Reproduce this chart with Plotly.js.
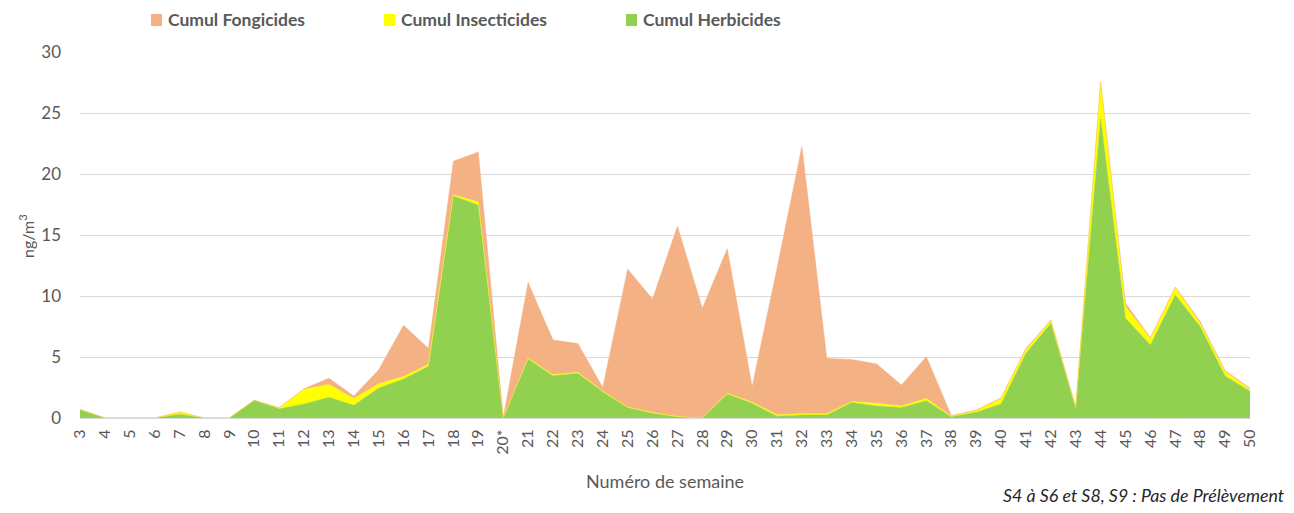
<!DOCTYPE html>
<html>
<head>
<meta charset="utf-8">
<script src="https://cdn.plot.ly/plotly-3.0.1.min.js"></script>
<style>
html,body{margin:0;padding:0;background:#fff;}
#chart{width:1294px;height:513px;}
</style>
</head>
<body>
<div id="chart"></div>
<script>
const weeks = ['3','4','5','6','7','8','9','10','11','12','13','14','15','16','17','18','19','20*',
  '21','22','23','24','25','26','27','28','29','30','31','32','33','34','35','36','37','38','39','40',
  '41','42','43','44','45','46','47','48','49','50'];

const herbicides = [0.7,0,0,0,0.3,0,0,1.45,0.75,1.15,1.7,1.05,2.45,3.2,4.25,18.2,17.45,0,
  4.83,3.47,3.66,2.16,0.87,0.38,0.1,0,1.97,1.2,0.15,0.25,0.25,1.28,0.98,0.87,1.42,0.1,0.47,1.15,
  5.3,7.76,0.79,24.56,8.17,5.98,10.08,7.49,3.44,2.2];

const insecticides = [0,0,0,0,0.2,0,0,0,0.1,1.2,1.05,0.55,0.35,0.2,0.15,0.1,0.25,0,
  0.07,0.08,0.09,0.04,0.03,0.07,0.02,0,0.05,0.1,0.12,0.1,0.1,0.07,0.22,0.11,0.18,0.05,0.13,0.45,
  0.27,0.22,0.06,3.0,0.96,0.55,0.6,0.27,0.36,0.15];

const fongicides = [0,0,0,0,0,0,0,0,0,0.05,0.5,0.2,1.15,4.2,1.3,2.75,4.1,0,
  6.2,2.85,2.35,0.3,11.3,9.3,15.6,9.0,11.85,1.27,12.0,21.9,4.52,3.45,3.23,1.72,3.43,0.05,0.05,0.05,
  0.13,0.05,0.02,0.03,0.27,0.07,0.05,0.14,0.1,0.08];

const seriesNames = ['Cumul Fongicides','Cumul Insecticides','Cumul Herbicides'];
const colors = {herb:'#92d050', ins:'#ffff00', fong:'#f4b183'};

const FONT = 'Lato, "Open Sans", sans-serif';
const GREY = '#595959';

function areaTrace(y, name, color){
  return {x: weeks, y: y, name: name, type:'scatter', mode:'lines', stackgroup:'one',
    line:{width:0.5, color:color, shape:'linear'}, fillcolor: color, showlegend:false, hoverinfo:'skip'};
}

const traces = [
  areaTrace(herbicides, seriesNames[2], colors.herb),
  areaTrace(insecticides, seriesNames[1], colors.ins),
  areaTrace(fongicides, seriesNames[0], colors.fong)
];

// plot area in pixels: x 80..1250, y 52..418
const L=80, R=1250, T=52, B=418;
const px = x => (x-L)/(R-L);
const py = y => (B-y)/(B-T);

const legendItems = [
  {label: seriesNames[0], color: colors.fong, sx: 151, tx: 166},
  {label: seriesNames[1], color: colors.ins, sx: 384, tx: 399},
  {label: seriesNames[2], color: colors.herb, sx: 626, tx: 641}
];

const shapes = legendItems.map(it => ({type:'rect', xref:'paper', yref:'paper',
  x0: px(it.sx), x1: px(it.sx+11), y0: py(26), y1: py(14), fillcolor: it.color, line:{width:0}}));

const annotations = legendItems.map(it => ({xref:'paper', yref:'paper', x: px(it.tx), y: py(20),
  xanchor:'left', yanchor:'middle', showarrow:false, text:'<b>'+it.label+'</b>',
  font:{family:FONT, size:17.5, color:GREY}}));

annotations.push({xref:'paper', yref:'paper', x: px(26), y: py(236), textangle:-90,
  xanchor:'center', yanchor:'middle', showarrow:false, text:'ng/m<sup>3</sup>',
  font:{family:FONT, size:16, color:GREY}});
annotations.push({xref:'paper', yref:'paper', x: px(665), y: py(481),
  xanchor:'center', yanchor:'middle', showarrow:false, text:'Numéro de semaine',
  font:{family:FONT, size:18, color:GREY}});
annotations.push({xref:'paper', yref:'paper', x: px(1286), y: py(495),
  xanchor:'right', yanchor:'middle', showarrow:false, text:'<i>S4 à S6 et S8, S9 : Pas de Prélèvement</i>',
  font:{family:FONT, size:17.8, color:'#262626'}});

const layout = {
  width:1294, height:513,
  margin:{l:L, r:1294-R, t:T, b:513-B, pad:0},
  paper_bgcolor:'#fff', plot_bgcolor:'#fff',
  showlegend:false,
  xaxis:{type:'category', categoryorder:'array', categoryarray:weeks, range:[0, weeks.length-1],
    tickangle:-90, tickfont:{family:FONT, size:16, color:GREY}, showgrid:false, zeroline:false,
    showline:true, linecolor:'#d9d9d9', linewidth:1, ticks:'', ticklabelstandoff:4, fixedrange:true},
  yaxis:{range:[0,30], dtick:5, tick0:0, showgrid:true, gridcolor:'#d9d9d9', gridwidth:1,
    zeroline:false, showline:false, ticks:'', tickfont:{family:FONT, size:17, color:GREY},
    ticklabelstandoff:18, fixedrange:true},
  shapes: shapes,
  annotations: annotations
};

Plotly.newPlot('chart', traces, layout, {displayModeBar:false, staticPlot:true});
</script>
</body>
</html>
